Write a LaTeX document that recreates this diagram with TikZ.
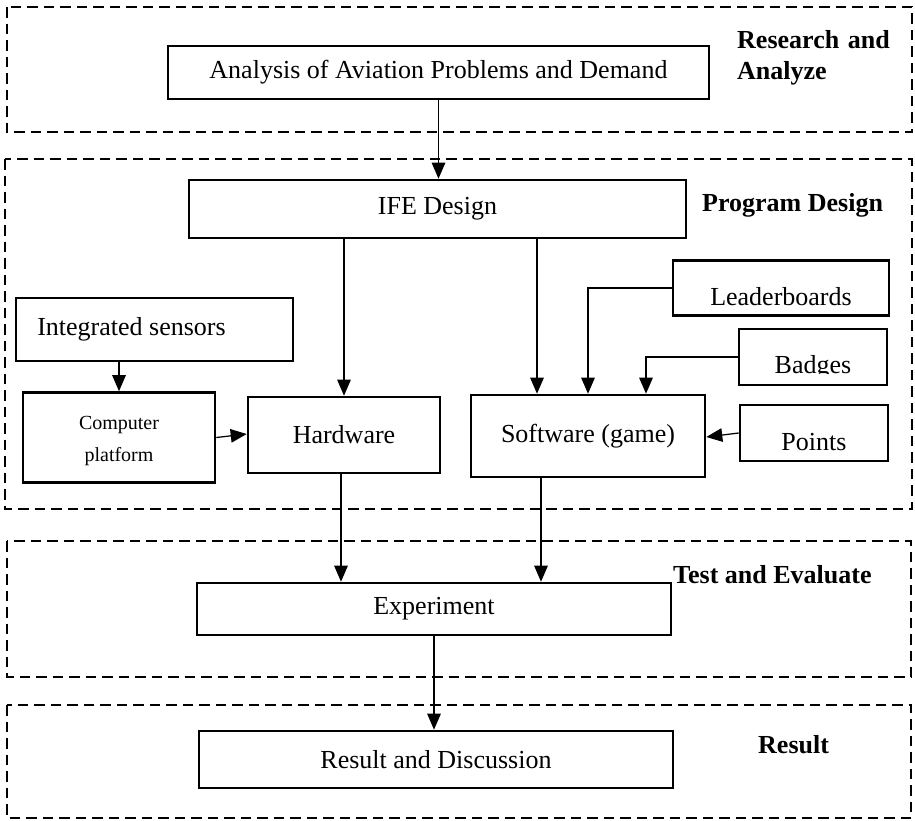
\documentclass[tikz,border=0pt]{standalone}
\usepackage{fontspec}
\setmainfont{Liberation Serif}
\usetikzlibrary{arrows.meta}

% shift the ink of a label downwards without changing its box
\newcommand{\sunk}[2]{\raisebox{-#1}[\height][\depth]{#2}}

\begin{document}
\begin{tikzpicture}[x=1pt,y=-1pt,
  box/.style={draw, line width=2.6pt, inner sep=0pt, align=center,
              font=\fontsize{26}{31}\selectfont},
  zone/.style={draw, line width=2.6pt, dash pattern=on 10.5pt off 6pt},
  link/.style={line width=1.25pt},
  arr/.style={link, -{Triangle[length=16pt,width=13.5pt]}},
  tag/.style={font=\fontsize{26}{31}\selectfont\bfseries, inner sep=0pt},
  plain/.style={font=\fontsize{26}{31}\selectfont, inner sep=0pt}
]
\useasboundingbox (0,0) rectangle (915,820);

% stage frames
\draw[zone] (7,7) rectangle (912,132);
\draw[zone] (5,159) rectangle (912,509);
\draw[zone] (7,541) rectangle (911,677);
\draw[zone] (7,705) rectangle (911,818);

% stage titles
\node[tag, anchor=north west, align=left, text width=164pt] (t1) at (737,30)
  {\makebox[164pt][s]{Research and}\\Analyze};
\node[tag, anchor=base west] (t2) at (702,211) {Program Design};
\node[tag, anchor=base west] (t3) at (673,583) {Test and Evaluate};
\node[tag, anchor=base west] (t4) at (758,753) {Result};

% process boxes
\node[box, minimum width=541pt, minimum height=53pt] (ana) at (438.5,72.5)
  {Analysis of Aviation Problems and Demand};
\node[box, minimum width=497pt, minimum height=58pt] (ife) at (437.5,209)
  {IFE Design};
\node[box, minimum width=277pt, minimum height=63pt] (is) at (154.5,329.5)
  {Integrated sensors\kern46pt};
\node[box, minimum width=192pt, minimum height=90pt,
      font=\fontsize{20}{32}\selectfont] (cp) at (119,437.5)
  {\sunk{3pt}{Computer}\\\sunk{3pt}{platform}};
\node[box, minimum width=192pt, minimum height=76pt] (hw) at (344,435)
  {Hardware};
\node[box, minimum width=234pt, minimum height=82pt] (sw) at (588,436)
  {Software (game)};
\node[box, minimum width=216pt, minimum height=55pt] (lb) at (781,288)
  {\sunk{9pt}{Leaderboards}};
\node[box, minimum width=148pt, minimum height=56pt] (bd) at (813,357) {};
\begin{scope}
  \clip (bd.north west) rectangle ([yshift=-16.5pt]bd.east);
  \node[plain] (bdt) at ([yshift=-10pt]bd.center) {Badges};
\end{scope}
\node[box, minimum width=148pt, minimum height=56pt] (pt) at (814,433)
  {\sunk{9pt}{Points}};
\node[box, minimum width=474pt, minimum height=52pt] (exp) at (434,609)
  {Experiment};
\node[box, minimum width=474pt, minimum height=57pt] (res) at (436,759.5)
  {Result and Discussion};

% connectors
\draw[arr] (ana.south) -- (ana.south |- ife.north);
\draw[arr] (hw.north |- ife.south) -- (hw.north);
\draw[arr] ([xshift=-51pt]sw.north |- ife.south) -- ([xshift=-51pt]sw.north);
\draw[arr] (lb.west) -| (sw.north);
\draw[arr] (bd.west) -| ([xshift=58pt]sw.north);
\draw[arr] (pt.west) -- ([yshift=-1pt]sw.east);
\draw[arr] (cp.north |- is.south) -- (cp.north);
\draw[arr] (cp.east) -- ([yshift=1pt]hw.west);
\draw[arr] ([xshift=-3pt]hw.south) -- ([xshift=-3pt]hw.south |- exp.north);
\draw[arr] ([xshift=-47pt]sw.south) -- ([xshift=-47pt]sw.south |- exp.north);
\draw[arr] (exp.south) -- (exp.south |- res.north);
\end{tikzpicture}
\end{document}
